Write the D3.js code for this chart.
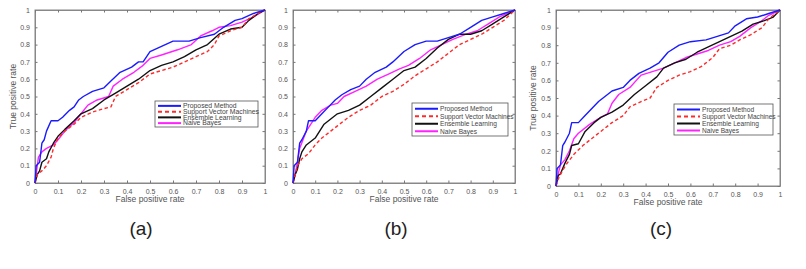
<!DOCTYPE html>
<html>
<head>
<meta charset="utf-8">
<script src="https://cdn.jsdelivr.net/npm/d3@7"></script>
<style>
  body { margin: 0; background: #fff; }
  svg { display: block; font-family: "Liberation Sans", Arial, sans-serif; }
  .tick text { fill: #555; font-size: 7px; }
  .tick line { stroke: #777; }
  .domain { stroke: #888; }
</style>
</head>
<body>
<svg id="s1" width="806" height="269"></svg>
<script>
/*************************Data********************* */
const seriesNames = ["Proposed Method", "Support Vector Machines", "Ensemble Learning", "Naive Bayes"];
const seriesColors = ["#1a1aff", "#ff2a2a", "#111111", "#ff22ff"];
const tickValues = [0, 0.1, 0.2, 0.3, 0.4, 0.5, 0.6, 0.7, 0.8, 0.9, 1];
const panelLabels = ["(a)", "(b)", "(c)"];

// [false positive rate, true positive rate]
const proposedA = [[0,0],[0.005,0.1],[0.02,0.12],[0.03,0.23],[0.04,0.25],[0.05,0.3],[0.07,0.36],[0.1,0.36],[0.12,0.38],[0.15,0.42],[0.17,0.44],[0.19,0.48],[0.21,0.5],[0.25,0.53],[0.3,0.55],[0.33,0.59],[0.37,0.64],[0.42,0.67],[0.45,0.7],[0.47,0.7],[0.5,0.76],[0.55,0.79],[0.6,0.82],[0.67,0.82],[0.72,0.84],[0.78,0.86],[0.82,0.9],[0.87,0.94],[0.9,0.95],[0.95,0.98],[1,1]];
const svmA = [[0,0],[0.01,0.05],[0.03,0.07],[0.05,0.1],[0.07,0.15],[0.08,0.2],[0.1,0.26],[0.13,0.3],[0.17,0.34],[0.2,0.38],[0.25,0.41],[0.3,0.43],[0.33,0.44],[0.35,0.5],[0.4,0.54],[0.45,0.58],[0.5,0.63],[0.55,0.65],[0.6,0.67],[0.65,0.7],[0.7,0.73],[0.75,0.76],[0.78,0.8],[0.8,0.85],[0.85,0.88],[0.9,0.9],[0.93,0.95],[0.97,0.98],[1,1]];
const ensembleA = [[0,0],[0.01,0.05],[0.02,0.07],[0.03,0.12],[0.05,0.14],[0.06,0.18],[0.08,0.23],[0.1,0.27],[0.13,0.31],[0.17,0.36],[0.2,0.4],[0.25,0.43],[0.3,0.48],[0.35,0.52],[0.4,0.56],[0.45,0.6],[0.5,0.65],[0.55,0.68],[0.6,0.7],[0.65,0.73],[0.7,0.77],[0.75,0.8],[0.8,0.86],[0.85,0.89],[0.9,0.9],[0.93,0.94],[0.97,0.98],[1,1]];
const bayesA = [[0,0],[0.01,0.1],[0.015,0.15],[0.03,0.18],[0.05,0.2],[0.08,0.22],[0.1,0.25],[0.13,0.3],[0.17,0.35],[0.2,0.4],[0.23,0.45],[0.27,0.48],[0.32,0.5],[0.34,0.56],[0.38,0.6],[0.43,0.64],[0.47,0.68],[0.5,0.72],[0.55,0.74],[0.62,0.77],[0.68,0.8],[0.72,0.85],[0.77,0.88],[0.8,0.9],[0.85,0.91],[0.9,0.93],[0.95,0.96],[1,1]];

const proposedB = [[0,0],[0.005,0.1],[0.02,0.12],[0.03,0.23],[0.04,0.25],[0.06,0.3],[0.07,0.36],[0.1,0.36],[0.13,0.4],[0.16,0.44],[0.19,0.48],[0.22,0.51],[0.26,0.54],[0.3,0.56],[0.33,0.6],[0.37,0.64],[0.42,0.67],[0.45,0.7],[0.5,0.76],[0.55,0.8],[0.6,0.82],[0.65,0.82],[0.7,0.84],[0.75,0.86],[0.8,0.9],[0.85,0.94],[0.9,0.96],[0.95,0.98],[1,1]];
const svmB = [[0,0],[0.01,0.05],[0.02,0.1],[0.04,0.14],[0.07,0.17],[0.1,0.22],[0.13,0.26],[0.17,0.3],[0.2,0.33],[0.25,0.38],[0.3,0.42],[0.35,0.45],[0.4,0.5],[0.45,0.53],[0.5,0.57],[0.55,0.62],[0.6,0.66],[0.65,0.7],[0.7,0.75],[0.75,0.8],[0.8,0.83],[0.85,0.86],[0.9,0.9],[0.95,0.94],[1,1]];
const ensembleB = [[0,0],[0.01,0.05],[0.02,0.08],[0.03,0.14],[0.04,0.18],[0.06,0.22],[0.1,0.26],[0.12,0.3],[0.14,0.34],[0.17,0.37],[0.2,0.4],[0.25,0.42],[0.3,0.45],[0.35,0.5],[0.4,0.55],[0.45,0.6],[0.5,0.65],[0.55,0.67],[0.6,0.72],[0.65,0.78],[0.7,0.83],[0.75,0.86],[0.8,0.86],[0.85,0.88],[0.9,0.92],[0.95,0.96],[1,1]];
const bayesB = [[0,0],[0.01,0.05],[0.02,0.12],[0.03,0.2],[0.06,0.3],[0.1,0.38],[0.13,0.42],[0.17,0.45],[0.2,0.46],[0.23,0.5],[0.28,0.53],[0.33,0.56],[0.38,0.6],[0.43,0.63],[0.48,0.66],[0.52,0.68],[0.57,0.72],[0.62,0.77],[0.67,0.8],[0.72,0.83],[0.78,0.86],[0.83,0.88],[0.88,0.92],[0.93,0.96],[1,1]];

const proposedC = [[0,0],[0.005,0.1],[0.02,0.12],[0.03,0.23],[0.04,0.25],[0.06,0.3],[0.07,0.36],[0.1,0.36],[0.13,0.4],[0.16,0.44],[0.19,0.48],[0.22,0.51],[0.25,0.54],[0.3,0.56],[0.33,0.6],[0.37,0.64],[0.42,0.67],[0.46,0.7],[0.5,0.76],[0.55,0.8],[0.6,0.82],[0.67,0.83],[0.72,0.85],[0.77,0.87],[0.8,0.91],[0.85,0.95],[0.9,0.96],[0.95,0.98],[1,1]];
const svmC = [[0,0],[0.01,0.04],[0.03,0.09],[0.05,0.13],[0.08,0.18],[0.12,0.23],[0.16,0.27],[0.2,0.31],[0.25,0.36],[0.3,0.4],[0.33,0.45],[0.38,0.48],[0.42,0.5],[0.45,0.56],[0.5,0.6],[0.55,0.63],[0.6,0.65],[0.65,0.68],[0.7,0.73],[0.73,0.78],[0.78,0.8],[0.82,0.83],[0.87,0.86],[0.92,0.9],[0.95,0.95],[1,1]];
const ensembleC = [[0,0],[0.01,0.06],[0.02,0.07],[0.04,0.13],[0.06,0.18],[0.07,0.23],[0.1,0.24],[0.13,0.31],[0.17,0.36],[0.2,0.39],[0.25,0.42],[0.3,0.46],[0.35,0.52],[0.4,0.57],[0.45,0.62],[0.48,0.67],[0.53,0.7],[0.58,0.72],[0.63,0.76],[0.68,0.79],[0.73,0.82],[0.78,0.85],[0.83,0.88],[0.88,0.92],[0.93,0.94],[0.97,0.96],[1,1]];
const bayesC = [[0,0],[0.01,0.07],[0.02,0.12],[0.04,0.15],[0.06,0.2],[0.08,0.27],[0.1,0.3],[0.15,0.35],[0.2,0.39],[0.23,0.41],[0.25,0.47],[0.28,0.52],[0.33,0.56],[0.38,0.63],[0.43,0.65],[0.48,0.67],[0.53,0.7],[0.58,0.73],[0.63,0.75],[0.68,0.77],[0.73,0.8],[0.78,0.82],[0.82,0.85],[0.87,0.9],[0.92,0.94],[0.95,0.97],[1,1]];

const panelSeries = [
  [proposedA, svmA, ensembleA, bayesA],
  [proposedB, svmB, ensembleB, bayesB],
  [proposedC, svmC, ensembleC, bayesC],
];

/*************************Layout********************* */
// plot box [left, right, top, bottom], legend box [x, y, w, h], label x, y-label clip
const panels = [
  { box: [35, 265, 10, 183], legend: [155, 101, 103, 26], labelX: 141, yLabelX: 16, clip: null },
  { box: [293, 515, 10, 183], legend: [412, 103, 96, 33], labelX: 396, yLabelX: 276, clip: 277 },
  { box: [556, 780, 10, 186], legend: [674, 104, 99, 31], labelX: 661, yLabelX: 536, clip: null },
];

const svg = d3.select("svg#s1");

panels.forEach((p, pi) => {
  const [l, r, t, b] = p.box;
  const x = d3.scaleLinear().domain([0, 1]).range([l, r]);
  const y = d3.scaleLinear().domain([0, 1]).range([b, t]);
  const g = svg.append("g").attr("class", "panel");

  // frame
  g.append("rect").attr("x", l).attr("y", t).attr("width", r - l).attr("height", b - t)
    .attr("fill", "#fff").attr("stroke", "#888").attr("stroke-width", 1);

  const fmt = (d) => (d === 0 || d === 1 ? d3.format("d")(d) : d3.format(".1f")(d));
  g.append("g").attr("transform", `translate(0,${b})`)
    .call(d3.axisBottom(x).tickValues(tickValues).tickFormat(fmt).tickSizeInner(-2.5).tickSizeOuter(0).tickPadding(6));
  g.append("g").attr("transform", `translate(${l},0)`)
    .call(d3.axisLeft(y).tickValues(tickValues).tickFormat(fmt).tickSizeInner(-2.5).tickSizeOuter(0).tickPadding(5));
  g.append("g").attr("transform", `translate(0,${t})`)
    .call(d3.axisTop(x).tickValues(tickValues).tickFormat("").tickSizeInner(-2.5).tickSizeOuter(0));
  g.append("g").attr("transform", `translate(${r},0)`)
    .call(d3.axisRight(y).tickValues(tickValues).tickFormat("").tickSizeInner(-2.5).tickSizeOuter(0));

  // axis labels
  g.append("text").text("False positive rate").attr("x", (l + r) / 2).attr("y", b + 19)
    .attr("text-anchor", "middle").attr("font-size", 8.5).attr("fill", "#555");
  const yl = g.append("text").text("True positive rate")
    .attr("transform", `translate(${p.yLabelX},${(t + b) / 2}) rotate(-90)`)
    .attr("text-anchor", "middle").attr("font-size", 8.5).attr("fill", "#555");
  if (p.clip) {
    svg.append("clipPath").attr("id", `yclip${pi}`)
      .append("rect").attr("x", p.clip).attr("y", t).attr("width", 20).attr("height", b - t);
    yl.attr("clip-path", `url(#yclip${pi})`).attr("fill", "#777");
  }

  // curves
  const line = d3.line().x((d) => x(d[0])).y((d) => y(d[1]));
  const order = [3, 2, 1, 0];
  order.forEach((si) => {
    g.append("path").datum(panelSeries[pi][si])
      .attr("d", line)
      .attr("fill", "none")
      .attr("stroke", seriesColors[si])
      .attr("stroke-width", 1.4)
      .attr("stroke-dasharray", si === 1 ? "3.5,2.5" : null)
      .attr("stroke-linejoin", "round");
  });

  // legend
  const [lx, ly, lw, lh] = p.legend;
  const lg = g.append("g").attr("class", "legend");
  lg.append("rect").attr("x", lx).attr("y", ly).attr("width", lw).attr("height", lh)
    .attr("fill", "#fff").attr("stroke", "#555").attr("stroke-width", 0.8);
  const row = (lh - 3) / 4;
  seriesNames.forEach((name, si) => {
    const cy = ly + 2 + row * (si + 0.5);
    lg.append("line").attr("x1", lx + 3).attr("x2", lx + 26).attr("y1", cy).attr("y2", cy)
      .attr("stroke", seriesColors[si]).attr("stroke-width", 2)
      .attr("stroke-dasharray", si === 1 ? "4,3" : null);
    lg.append("text").text(name).attr("x", lx + 28).attr("y", cy + 2.3)
      .attr("font-size", lw < 100 ? 6.6 : 6.8).attr("fill", "#444");
  });

  // panel caption
  svg.append("text").text(panelLabels[pi]).attr("x", p.labelX).attr("y", 235)
    .attr("text-anchor", "middle").attr("font-size", 19).attr("fill", "#222");
});
</script>
</body>
</html>
